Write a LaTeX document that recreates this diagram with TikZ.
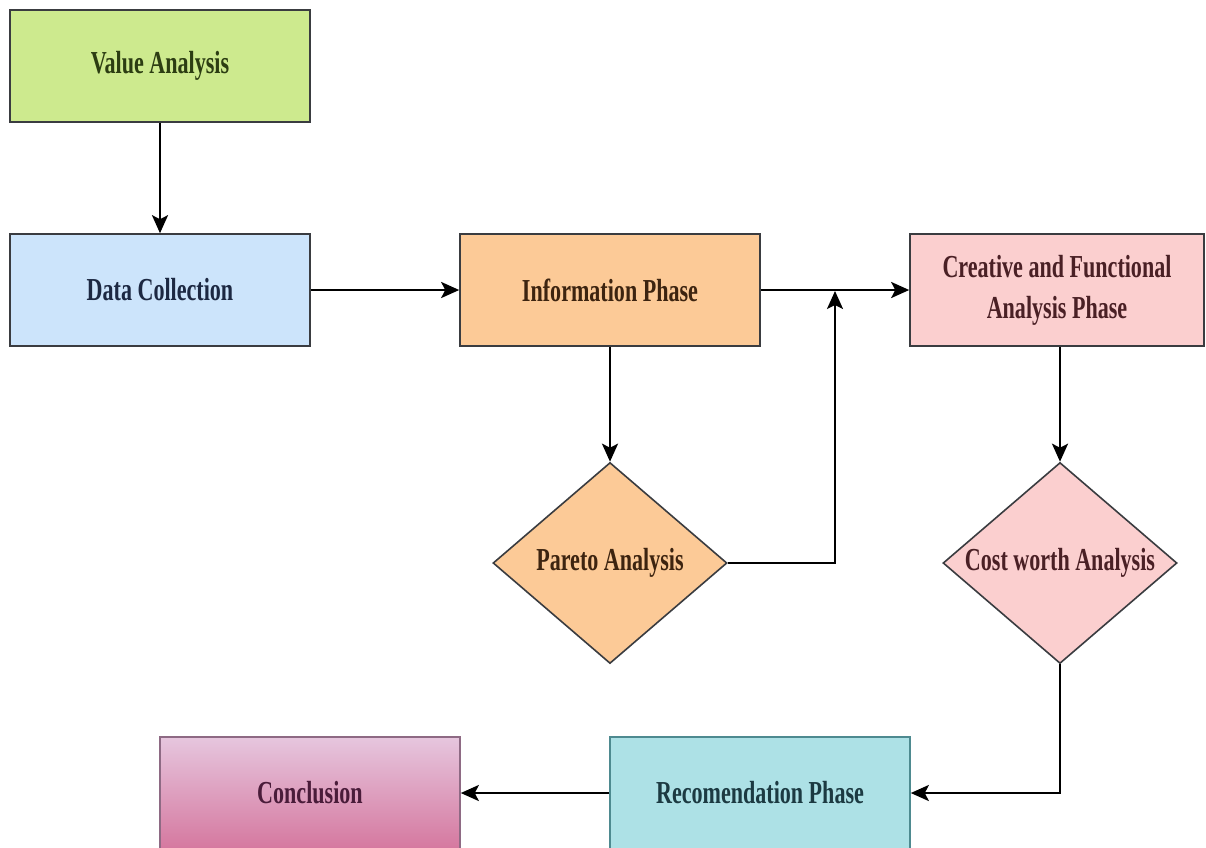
\documentclass[tikz,border=0pt]{standalone}
\usepackage{fontspec}
\newfontfamily\condserif[FakeStretch=0.69]{Liberation Serif Bold}
\usetikzlibrary{arrows.meta,shapes.geometric}
\definecolor{vafill}{HTML}{CDEA8E}
\definecolor{vatext}{HTML}{2C3D12}
\definecolor{dcfill}{HTML}{CCE4FB}
\definecolor{dctext}{HTML}{1C2842}
\definecolor{ipfill}{HTML}{FCCA97}
\definecolor{iptext}{HTML}{3D2410}
\definecolor{cffill}{HTML}{FBCFCF}
\definecolor{cftext}{HTML}{4A2025}
\definecolor{rpfill}{HTML}{ADE1E6}
\definecolor{rptext}{HTML}{1C3A42}
\definecolor{rpdraw}{HTML}{4E8A90}
\definecolor{cotop}{HTML}{E6C6DE}
\definecolor{cobot}{HTML}{D5789F}
\definecolor{cotext}{HTML}{4A1C3A}
\definecolor{codraw}{HTML}{8E6A84}
\definecolor{edge}{HTML}{3A3C40}
\begin{document}
\begin{tikzpicture}[x=1pt,y=-1pt,
  base/.style={line width=1.6pt, draw=edge, font=\condserif\fontsize{32}{41}\selectfont, align=center, inner sep=0pt},
  rbox/.style={base, rectangle, minimum width=300, minimum height=112},
  dia/.style={base, diamond, minimum width=234, minimum height=201},
  lab/.style={font=\condserif\fontsize{32}{41}\selectfont, inner sep=0pt},
  arr/.style={line width=2.4pt, draw=black, -{Stealth[length=18pt,width=16pt,inset=4pt]}}]
\clip (0,0) rectangle (1206,847);
\fill[white] (0,0) rectangle (1206,847);
\node[rbox, fill=vafill, text=vatext] (va) at (160,66) {Value Analysis};
\node[rbox, fill=dcfill, text=dctext] (dc) at (160,290) {Data Collection};
\node[rbox, fill=ipfill, text=iptext] (ip) at (610,290) {Information Phase};
\node[rbox, minimum width=294, fill=cffill, text=cftext] (cf) at (1057,290) {Creative and Functional\\Analysis Phase};
\node[dia, fill=ipfill, label={[lab, text=iptext]center:Pareto Analysis}] (pa) at (610,563) {};
\node[dia, fill=cffill, label={[lab, text=cftext]center:Cost worth Analysis}] (cw) at (1060,563) {};
\node[rbox, fill=rpfill, draw=rpdraw, text=rptext] (rp) at (760,793) {Recomendation Phase};
\node[rbox, top color=cotop, bottom color=cobot, draw=codraw, text=cotext] (co) at (310,793) {Conclusion};
\coordinate (j) at (835,291);
\draw[arr] (va) -- (dc);
\draw[arr] (dc) -- (ip);
\draw[arr] (ip) -- (cf);
\draw[arr] (ip) -- (pa);
\draw[arr] (pa.east) -| (j);
\draw[arr] (cf.south -| cw.north) -- (cw.north);
\draw[arr] (cw.south) |- (rp.east);
\draw[arr] (rp) -- (co);
\end{tikzpicture}
\end{document}
